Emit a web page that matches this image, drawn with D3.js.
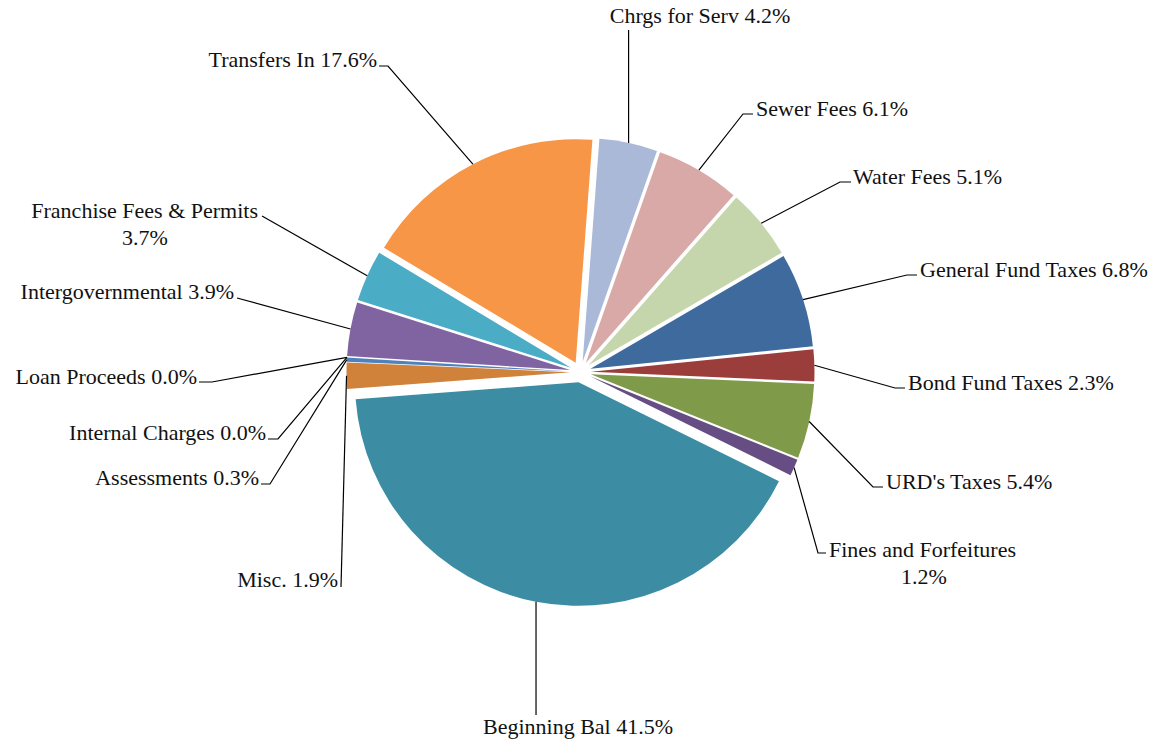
<!DOCTYPE html>
<html>
<head>
<meta charset="utf-8">
<script src="https://cdn.jsdelivr.net/npm/d3@7"></script>
<style>
  html, body { margin: 0; padding: 0; background: #fff; }
  svg { display: block; }
</style>
</head>
<body>
<svg id="chart" width="1162" height="742"></svg>
<script>
// Revenue sources, share of total (%), in clockwise order
const categories = [
  "Chrgs for Serv", "Sewer Fees", "Water Fees", "General Fund Taxes",
  "Bond Fund Taxes", "URD's Taxes", "Fines and Forfeitures", "Beginning Bal",
  "Misc.", "Assessments", "Internal Charges", "Loan Proceeds",
  "Intergovernmental", "Franchise Fees & Permits", "Transfers In"
];
const shares = [4.2, 6.1, 5.1, 6.8, 2.3, 5.4, 1.2, 41.5, 1.9, 0.3, 0.0, 0.0, 3.9, 3.7, 17.6];

// Slice fills
const sliceColors = [
  "#A9B9D7", "#D9A9A8", "#C5D6AC", "#3E6A9D", "#9B3E3B", "#7F9A48", "#664E84",
  "#3C8DA4", "#D0813A", "#4F81BD", "#9BBB59", "#C0504D", "#8064A2", "#4BACC6", "#F79646"
];

// Label placement: text anchor point, alignment, and leader waypoints after the slice edge
const labelLayout = [
  { x: 700, y: 23,  anchor: "middle", pts: [[null, 30]] },
  { x: 756, y: 116, anchor: "start",  pts: [[743, 114], [753, 114]] },
  { x: 853, y: 184, anchor: "start",  pts: [[840, 182], [851, 182]] },
  { x: 920, y: 277, anchor: "start",  pts: [[907, 275], [917, 275]] },
  { x: 908, y: 390, anchor: "start",  pts: [[895, 388], [905, 388]] },
  { x: 886, y: 489, anchor: "start",  pts: [[873, 487], [883, 487]] },
  { x: 829, y: 557, anchor: "start",  second: 924, pts: [[818, 553], [826, 553]] },
  { x: 578, y: 734, anchor: "middle", pts: [[null, 715]] },
  { x: 338, y: 587, anchor: "end",    pts: [[341, 587]] },
  { x: 259, y: 485, anchor: "end",    pts: [[270, 484], [261, 484]] },
  { x: 266, y: 440, anchor: "end",    pts: [[278, 439], [268, 439]] },
  { x: 197, y: 384, anchor: "end",    pts: [[212, 382], [199, 382]] },
  { x: 234, y: 299, anchor: "end",    pts: [[237, 298]] },
  { x: 258, y: 218, anchor: "end",    second: 145, pts: [[262, 216]] },
  { x: 377, y: 67,  anchor: "end",    pts: [[388, 66], [379, 66]] }
];

const labelFont = "'Liberation Serif', 'Times New Roman', Times, serif";

const cx = 580.5, cy = 372;
const radius = 223.5;
const explode = 10.5;
const rotation = 0.075; // first slice begins slightly past 12 o'clock

const svg = d3.select("#chart");
const g = svg.append("g").attr("transform", `translate(${cx},${cy})`);

const pie = d3.pie()
  .sort(null)
  .value(d => d)
  .startAngle(rotation)
  .endAngle(rotation + 2 * Math.PI);

const arcs = pie(shares);
const arc = d3.arc().innerRadius(0).outerRadius(radius);
const edgeArc = d3.arc().innerRadius(radius + explode).outerRadius(radius + explode);

// Slices, each pushed outward along its bisector
g.selectAll("path.slice")
  .data(arcs)
  .join("path")
  .attr("class", "slice")
  .attr("d", arc)
  .attr("fill", (d, i) => sliceColors[i])
  .attr("transform", d => {
    const a = (d.startAngle + d.endAngle) / 2;
    return `translate(${Math.sin(a) * explode},${-Math.cos(a) * explode})`;
  });

// Leader lines from the slice rim to each label
const lines = svg.append("g");
arcs.forEach((d, i) => {
  const L = labelLayout[i];
  const c = edgeArc.centroid(d);
  const start = [cx + c[0], cy + c[1]];
  const pts = [start].concat(L.pts.map(p => [p[0] === null ? start[0] : p[0], p[1]]));
  lines.append("path")
    .attr("d", d3.line()(pts))
    .attr("fill", "none")
    .attr("stroke", "#000")
    .attr("stroke-width", 1.2);
});

// Labels
const labels = svg.append("g")
  .attr("font-family", labelFont)
  .attr("font-size", 22)
  .attr("fill", "#111");
arcs.forEach((d, i) => {
  const L = labelLayout[i];
  const pct = shares[i].toFixed(1) + "%";
  if (L.second !== undefined) {
    labels.append("text")
      .attr("x", L.x).attr("y", L.y)
      .attr("text-anchor", L.anchor)
      .text(categories[i]);
    labels.append("text")
      .attr("x", L.second).attr("y", L.y + 27)
      .attr("text-anchor", "middle")
      .text(pct);
  } else {
    labels.append("text")
      .attr("x", L.x).attr("y", L.y)
      .attr("text-anchor", L.anchor)
      .text(`${categories[i]} ${pct}`);
  }
});
</script>
</body>
</html>
